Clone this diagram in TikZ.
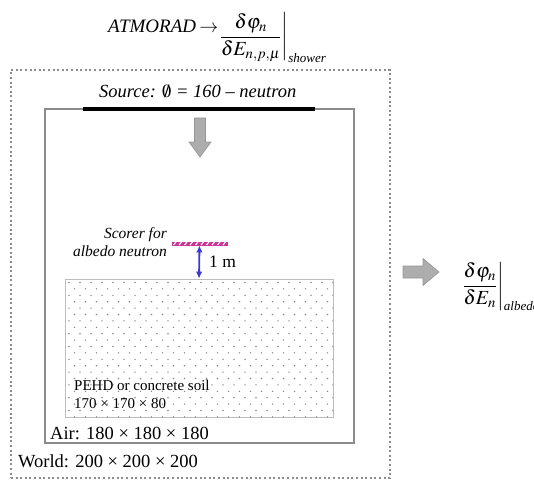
\documentclass[tikz,border=0pt]{standalone}
\usepackage{mathptmx}
\usepackage{fontspec}
\setmainfont{Liberation Serif}
\usetikzlibrary{arrows.meta,positioning}
\definecolor{framegray}{HTML}{8C8C8C}
\definecolor{soilgray}{HTML}{BDBDBD}
\definecolor{dotgray}{HTML}{8A8A8A}
\definecolor{scorerpink}{HTML}{CC3399}
\definecolor{onemblue}{HTML}{3A3AD0}
\definecolor{arrowgray}{HTML}{ADADAD}
\definecolor{arrowedge}{HTML}{959595}
\tikzstyle{worldbox}=[draw=framegray, line width=2pt, dash pattern=on 2pt off 2.6pt, inner sep=0]
\tikzstyle{airbox}=[draw=framegray, line width=2.6pt, inner sep=0]
\tikzstyle{soilbox}=[draw=soilgray, line width=0.8pt, inner sep=0]
\tikzstyle{srcline}=[fill=black, inner sep=0, minimum height=3.5]
\tikzstyle{scorerbox}=[fill=scorerpink, draw=scorerpink, line width=0.4pt, inner sep=0]
\tikzstyle{flowarrow}=[fill=arrowgray, draw=arrowedge, line width=0.6pt]
\tikzstyle{onem}=[{Latex[length=7pt,width=6.5pt]}-{Latex[length=7pt,width=6.5pt]}, draw=onemblue, fill=onemblue, line width=1.8pt]
\tikzstyle{lbl}=[inner sep=0, font=\fontsize{18.5}{22}\selectfont]
\tikzstyle{smalllbl}=[inner sep=0, font=\fontsize{15}{18}\selectfont]
\tikzstyle{formula}=[inner sep=0, font=\fontsize{20}{24}\selectfont]
\newcommand{\subtag}[1]{\mbox{\fontsize{13}{14}\selectfont\itshape #1}}

\begin{document}
\begin{tikzpicture}[x=1pt, y=-1pt]
        \useasboundingbox (0,0) rectangle (534,481);
        % boxes
        \node[worldbox, minimum width=379, minimum height=408] (world) at (200.5, 274) {};
        \node[airbox, minimum width=309, minimum height=334] (air) at (199.5, 276) {};
        \node[soilbox, minimum width=268, minimum height=138] (soil) at (199, 348) {};
        \begin{scope}
            \clip (65,279) rectangle (333,417);
            \foreach \r in {0,...,21}{
                \pgfmathsetmacro\off{mod(\r,2)*5.5}
                \foreach \c in {0,...,25}
                    \fill[dotgray] (69+\off+\c*11, 282.5+\r*6.4) circle (0.8);
            }
        \end{scope}
        % source
        \node[srcline, minimum width=232] (source) at (199, 109) {};
        \node[lbl, anchor=base west, font=\fontsize{18.5}{22}\selectfont\itshape] (srclabel) at (99, 98)
            {Source: $\emptyset$ = 160 -- neutron};
        \draw[flowarrow] (194.5,118) -- (205.5,118) -- (205.5,142) -- (211,142)
            -- (200,157) -- (189,142) -- (194.5,142) -- cycle;
        % scorer
        \node[scorerbox, minimum width=55, minimum height=3.5] (scorer) at (199.5, 243.5) {};
        \foreach \i in {0,...,9}
            \draw[white, line width=1.1pt] (173.5+\i*5.5, 245) -- (176+\i*5.5, 242);
        \node[inner sep=0, anchor=base east, align=right, font=\fontsize{15.5}{18}\selectfont\itshape] (scorerlabel) at (167, 256)
            {Scorer for\\albedo neutron};
        \draw[onem] (scorer.south) -- (soil.north) node[lbl, midway, anchor=west, xshift=9pt, font=\fontsize{17.5}{20}\selectfont] (onemlabel) {1 m};
        % labels
        \node[smalllbl, anchor=base west, align=left] (soillabel) at (74, 408)
            {PEHD or concrete soil\\170 × 170 × 80};
        \node[lbl, anchor=base west] (airlabel) at (50, 439) {Air: 180 × 180 × 180};
        \node[lbl, anchor=base west] (worldlabel) at (18, 467) {World: 200 × 200 × 200};
        % formulas
        \node[formula, anchor=base west, font=\fontsize{19}{22}\selectfont] (atmorad) at (108, 33) {\textit{ATMORAD}\,$\rightarrow$};
        \node[formula, anchor=base west] (showerfrac) at ([yshift=-9pt]atmorad.base east)
            {$\displaystyle\left.\frac{\delta\varphi_n}{\delta E_{n,p,\mu}}\right|_{\subtag{shower}}$};
        \draw[flowarrow] (403,266) -- (423,266) -- (423,258.5) -- (439,272)
            -- (423,285.5) -- (423,278) -- (403,278) -- cycle;
        \node[formula, anchor=base west] (albedofrac) at (461, 291)
            {$\displaystyle\left.\frac{\delta\varphi_n}{\delta E_n}\right|_{\subtag{albedo}}$};
\end{tikzpicture}
\end{document}
